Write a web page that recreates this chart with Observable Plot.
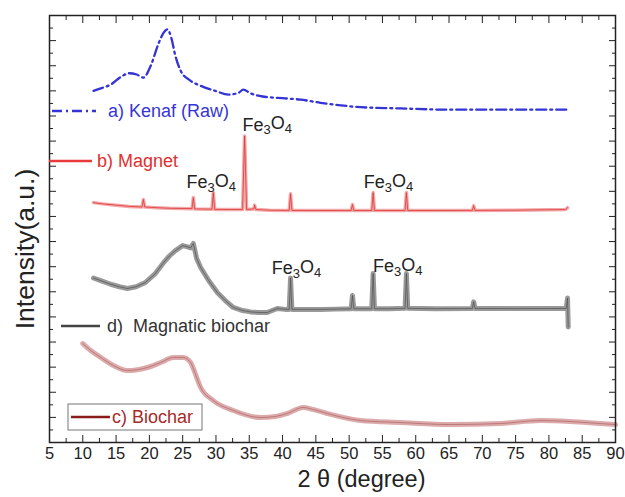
<!DOCTYPE html>
<html><head><meta charset="utf-8">
<script src="https://cdn.jsdelivr.net/npm/d3@7"></script>
<script src="https://cdn.jsdelivr.net/npm/@observablehq/plot@0.6"></script>
<style>
html,body{margin:0;padding:0;background:#fff;}
#chart{position:relative;width:625px;height:497px;}
</style></head><body><div id="chart"></div>
<script>
// ---- data (2θ in degrees, intensity in arbitrary units with vertical offsets) ----
const xTickLabels = [5,10,15,20,25,30,35,40,45,50,55,60,65,70,75,80,85,90];
const xMinorTicks = [7.5,12.5,17.5,22.5,27.5,32.5,37.5,42.5,47.5,52.5,57.5,62.5,67.5,72.5,77.5,82.5,87.5];
const yMajorTicks = [0,2,4,6,8,10,12,14,16,18,20,22,24,26,28,30,32,34];
const yMinorTicks = [1,3,5,7,9,11,13,15,17,19,21,23,25,27,29,31,33];

const seriesNames = ["a) Kenaf (Raw)", "b) Magnet", "d)  Magnatic biochar", "c) Biochar"];

const kenaf = [[11.6,28.0],[12.7,28.2],[14.2,28.5],[15.7,29.1],[16.9,29.4],[18.1,29.3],[19.1,29.05],[20.2,30.0],[21.4,31.8],[22.1,32.6],[22.7,32.9],[23.3,32.2],[23.9,30.8],[24.7,29.6],[26.2,28.8],[27.7,28.4],[29.9,28.0],[31.9,27.7],[33.4,27.85],[34.1,28.1],[35.2,27.8],[37.0,27.55],[40.4,27.4],[42.7,27.3],[45.7,27.05],[48.7,26.85],[51.7,26.7],[57.7,26.6],[65.2,26.5],[72.7,26.5],[82.8,26.5]];

const magnet = [[11.6,19.1],[13,19.0],[15,18.9],[17,18.8],[18.9,18.75],[19.1,19.35],[19.3,18.75],[21,18.7],[23,18.65],[26.4,18.62],[26.6,19.5],[26.8,18.6],[29.4,18.58],[29.6,19.9],[29.8,18.56],[32,18.55],[34.0,18.55],[34.3,24.4],[34.6,18.55],[35.7,18.6],[35.8,18.9],[36.0,18.55],[38,18.5],[41.0,18.48],[41.2,19.8],[41.4,18.48],[45,18.47],[50.3,18.47],[50.5,18.95],[50.7,18.47],[53.4,18.47],[53.6,19.9],[53.8,18.47],[58.4,18.47],[58.6,19.9],[58.8,18.47],[63,18.47],[68.5,18.48],[68.7,18.85],[68.9,18.48],[75,18.5],[82.5,18.55],[82.8,18.7]];

const magneticBiochar = [[11.6,13.1],[12.9,12.85],[14.2,12.6],[15.5,12.4],[16.7,12.26],[18.0,12.4],[19.4,12.74],[20.8,13.4],[22.1,14.3],[23.0,14.85],[23.9,15.28],[25.0,15.68],[25.6,15.6],[26.2,15.5],[26.6,15.85],[27.1,14.65],[27.7,13.93],[28.9,12.9],[30.2,11.94],[31.4,11.3],[32.6,10.75],[34.0,10.51],[35.2,10.4],[36.5,10.35],[37.7,10.35],[39.2,10.67],[40.4,10.6],[41.0,10.6],[41.2,13.1],[41.4,10.6],[43,10.6],[45.7,10.6],[48,10.62],[50.3,10.65],[50.5,11.7],[50.7,10.65],[53.4,10.65],[53.6,13.45],[53.8,10.65],[56,10.65],[58.4,10.68],[58.6,13.45],[58.8,10.68],[63,10.65],[68.5,10.67],[68.7,11.2],[68.9,10.67],[75,10.66],[80,10.67],[82.6,10.67],[82.8,11.5],[82.9,9.2]];

const biochar = [[10.0,7.88],[11.2,7.32],[12.7,6.77],[14.6,6.13],[16.7,5.73],[18.2,5.8],[19.7,5.97],[21.7,6.37],[23.6,6.77],[25.1,6.77],[26.2,6.37],[26.6,5.89],[27.7,4.38],[29.6,3.34],[32.6,2.55],[36.7,1.99],[38.9,2.07],[40.7,2.31],[43.1,2.79],[44.6,2.63],[46.7,2.31],[51.7,1.75],[57.7,1.59],[65.2,1.43],[72.7,1.51],[78.7,1.75],[83.2,1.67],[87.7,1.51],[90,1.43]];

const peakLabels = [
  {x: 37.7, y: 25.3, text: "Fe3O4"},
  {x: 29.3, y: 20.7, text: "Fe3O4"},
  {x: 55.9, y: 20.7, text: "Fe3O4"},
  {x: 42.1, y: 13.85, text: "Fe3O4"},
  {x: 57.3, y: 14.0, text: "Fe3O4"}
];

const FONT = "'Liberation Sans', Arial, Helvetica, sans-serif";
const X = d => d[0], Y = d => d[1];

const plot = Plot.plot({
  width: 625, height: 497,
  marginLeft: 49, marginRight: 10, marginTop: 15, marginBottom: 55,
  style: {fontFamily: FONT, color: "#222", background: "#fff"},
  x: {domain: [5, 90], axis: null},
  y: {domain: [0, 34], axis: null},
  marks: [
    // biochar (c)
    Plot.line(biochar, {x: X, y: Y, stroke: "#dcaaaa", strokeWidth: 5, curve: "monotone-x"}),
    Plot.line(biochar, {x: X, y: Y, stroke: "#a85c5c", strokeWidth: 0.9, curve: "monotone-x", strokeOpacity: 0.7}),
    // magnetic biochar (d)
    Plot.line(magneticBiochar, {x: X, y: Y, stroke: "#999", strokeWidth: 5}),
    Plot.line(magneticBiochar, {x: X, y: Y, stroke: "#444", strokeWidth: 1, strokeOpacity: 0.6}),
    // magnet (b)
    Plot.line(magnet, {x: X, y: Y, stroke: "#f3a9a9", strokeWidth: 3.5}),
    Plot.line(magnet, {x: X, y: Y, stroke: "#dc3030", strokeWidth: 1, strokeOpacity: 0.75}),
    // kenaf (a)
    Plot.line(kenaf, {x: X, y: Y, stroke: "#3333d6", strokeWidth: 2.3, strokeDasharray: "10,4,2,4", curve: "monotone-x"}),
    // peak annotations
    Plot.text(peakLabels, {x: "x", y: "y", text: "text", fontSize: 18, fill: "#222"}),
    // axes (ticks inward)
    Plot.axisX({anchor: "bottom", ticks: xTickLabels, tickSize: -7, tickFormat: () => "", label: null}),
    Plot.axisX({anchor: "bottom", ticks: xMinorTicks, tickSize: -4, tickFormat: () => "", label: null}),
    Plot.axisX({anchor: "bottom", ticks: xTickLabels, tickSize: 0, tickPadding: 5, fontSize: 16.5, label: null}),
    Plot.axisX({anchor: "top", ticks: xTickLabels, tickSize: -7, tickFormat: () => "", label: null}),
    Plot.axisX({anchor: "top", ticks: xMinorTicks, tickSize: -4, tickFormat: () => "", label: null}),
    Plot.axisY({anchor: "left", ticks: yMajorTicks, tickSize: -7, tickFormat: () => "", label: null}),
    Plot.axisY({anchor: "left", ticks: yMinorTicks, tickSize: -4, tickFormat: () => "", label: null}),
    Plot.axisY({anchor: "right", ticks: yMajorTicks, tickSize: -7, tickFormat: () => "", label: null}),
    Plot.axisY({anchor: "right", ticks: yMinorTicks, tickSize: -4, tickFormat: () => "", label: null}),
    Plot.frame({stroke: "#222", strokeWidth: 1.5}),
    // axis titles
    Plot.text(["2 θ (degree)"], {frameAnchor: "bottom", text: d => d, textAnchor: "middle", lineAnchor: "middle", dx: 29, dy: 37, fontSize: 23.5, fill: "#222"}),
    Plot.text(["Intensity(a.u.)"], {frameAnchor: "left", text: d => d, textAnchor: "middle", lineAnchor: "middle", rotate: -90, dx: -24, dy: 20, fontSize: 26.5, fill: "#222"})
  ]
});

document.getElementById("chart").appendChild(plot);

// subscripts for Fe3O4
d3.select(plot).selectAll("text").each(function() {
  if (this.textContent === "Fe3O4") {
    const t = d3.select(this);
    t.text("");
    t.append("tspan").text("Fe");
    t.append("tspan").attr("dy", "0.3em").attr("font-size", "72%").text("3");
    t.append("tspan").attr("dy", "-0.3em").text("O");
    t.append("tspan").attr("dy", "0.3em").attr("font-size", "72%").text("4");
  }
});

// legend entries
const svg = d3.select(plot);
const L = svg.append("g").attr("font-family", FONT).attr("font-size", 18)
  .attr("text-anchor", "start").style("white-space", "pre");
function entry(x1, x2, y, stroke, dash, tx, name, fill) {
  L.append("line").attr("x1", x1).attr("x2", x2).attr("y1", y).attr("y2", y)
    .attr("stroke", stroke).attr("stroke-width", 2.5).attr("stroke-dasharray", dash);
  L.append("text").attr("x", tx).attr("y", y).attr("dy", "0.35em").attr("fill", fill)
    .attr("xml:space", "preserve").text(name);
}
L.append("rect").attr("x", 68).attr("y", 404).attr("width", 134).attr("height", 26)
  .attr("fill", "#fff").attr("stroke", "#777").attr("stroke-width", 1);
entry(52, 96, 111, "#3333d6", "10,4,2,4", 108, seriesNames[0], "#3535d8");
entry(49, 92, 161, "#e83a3a", null, 97, seriesNames[1], "#e03030");
entry(61, 100, 326, "#444", null, 107, seriesNames[2], "#333");
entry(71, 110, 417, "#8b1a1a", null, 112, seriesNames[3], "#a52a2a");
</script></body></html>
